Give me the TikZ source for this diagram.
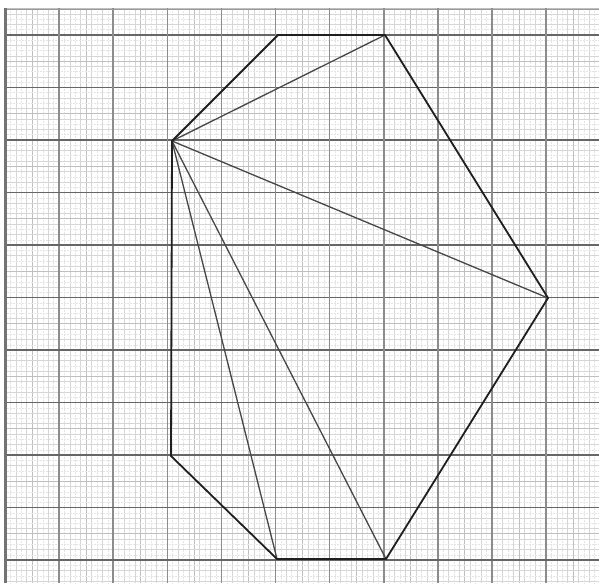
\documentclass[tikz,border=0pt]{standalone}
\begin{document}
\begin{tikzpicture}[x=1pt,y=-1pt,
  vmajorgrid/.style={draw=black!45,line width=1.6pt},
  hmajorgrid/.style={draw=black!60,line width=1.8pt},
  halfgrid/.style={draw=black!25,line width=0.9pt},
  minorgrid/.style={draw=black!16,line width=0.6pt},
  finegrid/.style={draw=black!10,line width=0.5pt,densely dotted},
  edge/.style={draw=black!88,line width=1.8pt,line join=round,line cap=round},
  diag/.style={draw=black!72,line width=1.3pt,line cap=round}]
\useasboundingbox (0,0) rectangle (599,583);
\fill[white] (0,0) rectangle (599,583);
\begin{scope}
\clip (5,8) rectangle (599,583);
% vertical grid
\foreach \k in {0,...,10}{
  \foreach \j in {1,3,7,9}{
    \draw[finegrid] ({5+54.1*(\k+\j/10)},8) -- ({5+54.1*(\k+\j/10)},583);}
  \foreach \j in {2,4,6,8}{
    \draw[minorgrid] ({5+54.1*(\k+\j/10)},8) -- ({5+54.1*(\k+\j/10)},583);}
  \draw[halfgrid] ({5+54.1*(\k+0.5)},8) -- ({5+54.1*(\k+0.5)},583);
}
% horizontal grid
\foreach \k in {-1,...,10}{
  \foreach \j in {1,3,7,9}{
    \draw[finegrid] (5,{35+52.5*(\k+\j/10)}) -- (599,{35+52.5*(\k+\j/10)});}
  \foreach \j in {2,4,6,8}{
    \draw[minorgrid] (5,{35+52.5*(\k+\j/10)}) -- (599,{35+52.5*(\k+\j/10)});}
  \draw[halfgrid] (5,{35+52.5*(\k+0.5)}) -- (599,{35+52.5*(\k+0.5)});
}
\foreach \k in {0,...,10}{
  \draw[vmajorgrid] ({5+54.1*\k},8) -- ({5+54.1*\k},583);
  \draw[hmajorgrid] (5,{35+52.5*\k}) -- (599,{35+52.5*\k});
}
\draw[draw=black!40,line width=1.2pt] (5,9.5) -- (599,9.5);
\end{scope}
\draw[draw=black!55,line width=3pt] (5.5,8) -- (5.5,583);
% vertices
\coordinate (P1) at (278,35);
\coordinate (P2) at (385,35);
\coordinate (P3) at (548,298);
\coordinate (P4) at (386,559);
\coordinate (P5) at (277,559);
\coordinate (P6) at (171,456);
\coordinate (P7) at (172,141);
% diagonals
\draw[diag] (P7) -- (P2);
\draw[diag] (P7) -- (P3);
\draw[diag] (P7) -- (P4);
\draw[diag] (P7) -- (P5);
% polygon
\draw[edge] (P1) -- (P2) -- (P3) -- (P4) -- (P5) -- (P6) -- (P7) -- cycle;
\end{tikzpicture}
\end{document}
